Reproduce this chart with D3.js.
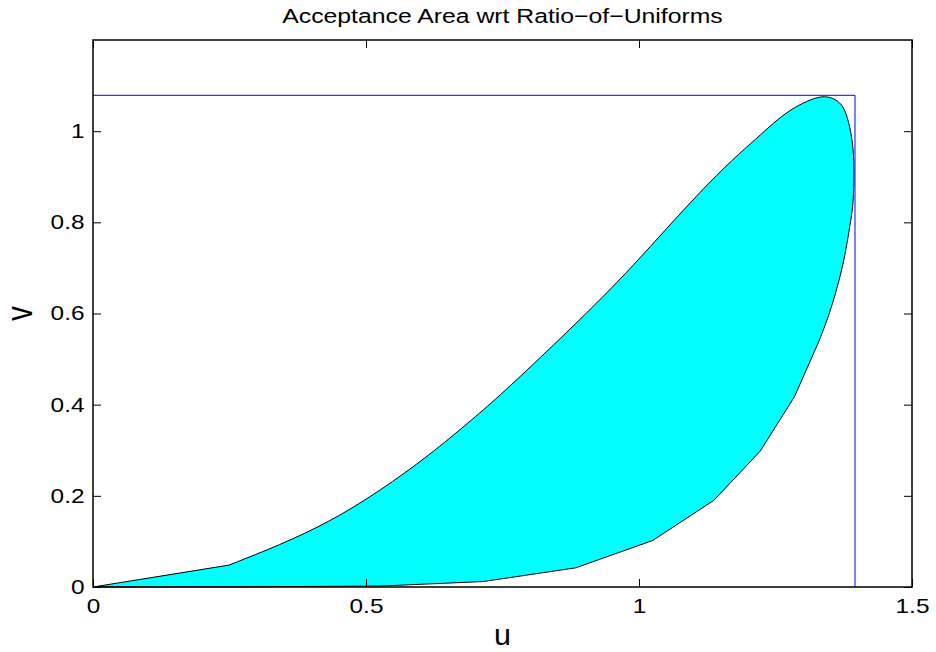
<!DOCTYPE html>
<html>
<head>
<meta charset="utf-8">
<script src="https://cdn.jsdelivr.net/npm/d3@7"></script>
<style>
  body { margin: 0; background: #fff; }
  text { font-family: "Liberation Sans", Arial, Helvetica, sans-serif; fill: #000; }
</style>
</head>
<body>
<script>
// straight lead-in, then smooth upper edge, then the polyline lower edge
var leadU = [0, 0.249];
var leadV = [0, 0.048];

var upperU = [0.249, 0.342, 0.434, 0.526, 0.617, 0.690, 0.739, 0.830, 0.929, 0.990, 1.051, 1.112, 1.173, 1.2155, 1.246, 1.2766, 1.307, 1.335, 1.356, 1.371, 1.380, 1.388, 1.393, 1.394, 1.393, 1.391, 1.385, 1.377, 1.367, 1.353, 1.338, 1.328];
var upperV = [0.048, 0.092, 0.143, 0.211, 0.290, 0.363, 0.413, 0.515, 0.630, 0.706, 0.787, 0.867, 0.940, 0.984, 1.018, 1.0466, 1.066, 1.078, 1.073, 1.060, 1.038, 1.001, 0.957, 0.911, 0.860, 0.827, 0.783, 0.725, 0.674, 0.615, 0.564, 0.535];

var lowerU = [1.328, 1.285, 1.222, 1.137, 1.025, 0.884, 0.715, 0.526, 0.250, 0];
var lowerV = [0.535, 0.418, 0.298, 0.190, 0.102, 0.042, 0.012, 0.002, 0.0003, 0];

var boxU = [0, 1.3956, 1.3956];
var boxV = [1.0787, 1.0787, 0];

var xTicks = [0, 0.5, 1, 1.5];
var yTicks = [0, 0.2, 0.4, 0.6, 0.8, 1];

window.onload = function(){

    var W = 936, H = 652;
    var pLeft = 93, pRight = 912, pTop = 40, pBottom = 587;
    var stretch = 1.22; // reference text is a bit wide

    var svg = d3.select("body").append("svg")
        .attr("width", W)
        .attr("height", H);

    var x = d3.scaleLinear().domain([0, 1.5]).range([pLeft, pRight]);
    var y = d3.scaleLinear().domain([0, 1.2]).range([pBottom, pTop]);

    function pts(us, vs){
        return us.map(function(u, i){ return [u, vs[i]]; });
    }

    var lin = d3.line()
        .x(function(d){ return x(d[0]); })
        .y(function(d){ return y(d[1]); });
    var smooth = d3.line()
        .x(function(d){ return x(d[0]); })
        .y(function(d){ return y(d[1]); })
        .curve(d3.curveBasis);

    var area = lin(pts(leadU, leadV))
        + smooth(pts(upperU, upperV)).replace(/^M/, "L")
        + lin(pts(lowerU, lowerV)).replace(/^M/, "L") + "Z";

    svg.append("path")
        .attr("d", area)
        .attr("fill", "#00ffff")
        .attr("stroke", "#000")
        .attr("stroke-width", 1);

    // bounding rectangle
    svg.append("path")
        .attr("d", lin(pts(boxU, boxV)))
        .attr("fill", "none")
        .attr("stroke", "#0000ff")
        .attr("stroke-width", 1);

    var tl = 8;
    var fmt = function(d){ return d3.format("")(d); };

    svg.append("g").attr("transform", "translate(0," + pBottom + ")")
        .call(d3.axisBottom(x).tickValues(xTicks).tickSizeInner(-tl).tickSizeOuter(0).tickPadding(12).tickFormat(fmt));
    svg.append("g").attr("transform", "translate(0," + pTop + ")")
        .call(d3.axisTop(x).tickValues(xTicks).tickSizeInner(-tl).tickSizeOuter(0).tickFormat(""));
    svg.append("g").attr("transform", "translate(" + pLeft + ",0)")
        .call(d3.axisLeft(y).tickValues(yTicks).tickSizeInner(-tl).tickSizeOuter(0).tickPadding(7).tickFormat(fmt));
    svg.append("g").attr("transform", "translate(" + pRight + ",0)")
        .call(d3.axisRight(y).tickValues(yTicks).tickSizeInner(-tl).tickSizeOuter(0).tickFormat(""));

    svg.selectAll(".domain").remove();
    svg.selectAll(".tick line").attr("stroke", "#000").attr("stroke-width", 1);
    svg.selectAll(".tick text")
        .attr("font-family", null)
        .attr("font-size", null)
        .style("font-size", "20px")
        .attr("fill", "#000")
        .attr("transform", "scale(" + stretch + ",1)");

    // axes frame
    svg.append("rect")
        .attr("x", pLeft).attr("y", pTop)
        .attr("width", pRight - pLeft).attr("height", pBottom - pTop)
        .attr("fill", "none")
        .attr("stroke", "#000")
        .attr("stroke-width", 1.5);

    svg.append("text")
        .attr("transform", "translate(" + ((pLeft + pRight) / 2) + ",23) scale(1.18,1)")
        .attr("text-anchor", "middle")
        .style("font-size", "21px")
        .text("Acceptance Area wrt Ratio\u2212of\u2212Uniforms");

    svg.append("text")
        .attr("transform", "translate(" + ((pLeft + pRight) / 2) + ",645) scale(1.05,1)")
        .attr("text-anchor", "middle")
        .style("font-size", "29px")
        .text("u");

    svg.append("text")
        .attr("transform", "translate(32," + ((pTop + pBottom) / 2) + ") scale(1.25,1) rotate(-90)")
        .attr("text-anchor", "middle")
        .style("font-size", "29px")
        .text("v");
};
</script>
</body>
</html>
